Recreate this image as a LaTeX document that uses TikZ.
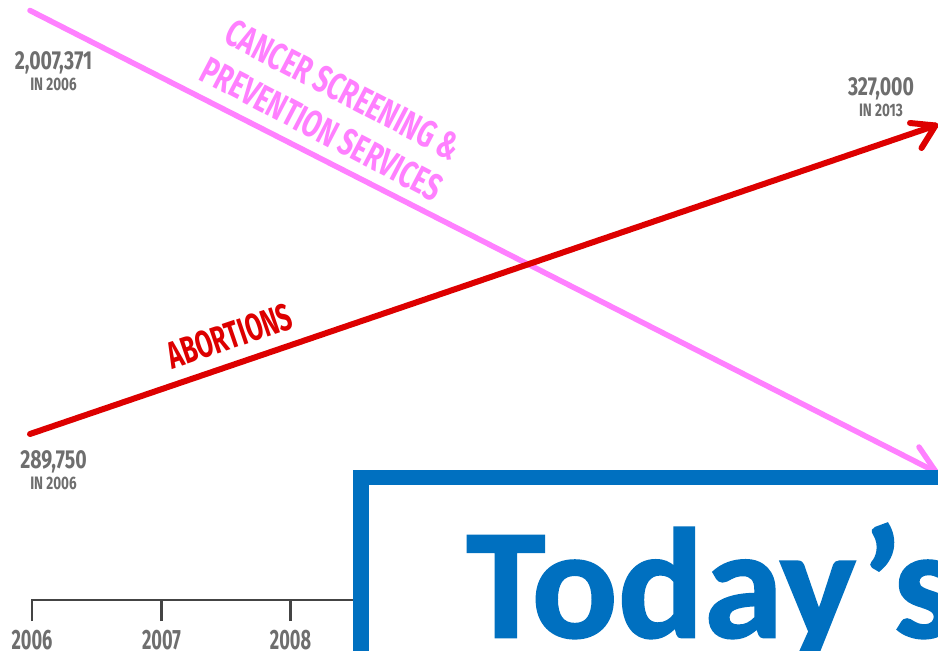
\documentclass[tikz,border=0pt]{standalone}
\usepackage{fontspec}
\setmainfont{Open Sans}
\newfontfamily\condbold[FakeStretch=0.65]{Fira Sans Bold}
\newfontfamily\widebold[FakeStretch=0.69]{Fira Sans Bold}
\newfontfamily\numbold[FakeStretch=0.75]{Fira Sans Bold}
\newfontfamily\titlefont[FakeStretch=1.02,FakeBold=1.2,BoldFeatures={FakeBold=1.2}]{Carlito}
\definecolor{pinkline}{HTML}{FF80FF}
\definecolor{redline}{HTML}{DD0000}
\definecolor{greytext}{HTML}{6E6E6E}
\definecolor{axisgrey}{HTML}{444444}
\definecolor{boxblue}{HTML}{0070C0}
\tikzset{
  pinkstroke/.style={draw=pinkline,line width=5.5pt,line cap=round,line join=round},
  redstroke/.style={draw=redline,line width=6pt,line cap=round,line join=round},
  axisstroke/.style={draw=axisgrey,line width=2.4pt},
  bignum/.style={text=greytext,font=\numbold\fontsize{26}{26}\selectfont,inner sep=0pt},
  smallnum/.style={text=greytext,font=\numbold\fontsize{18}{18}\selectfont,inner sep=0pt},
  yearlabel/.style={text=greytext,font=\condbold\fontsize{28}{28}\selectfont,inner sep=0pt},
  pinklabel/.style={text=pinkline,font=\widebold\fontsize{38}{38}\selectfont,inner sep=0pt,rotate=-27.5},
  redlabel/.style={text=redline,font=\condbold\fontsize{38}{38}\selectfont,inner sep=0pt,rotate=18.8}
}
\begin{document}
\begin{tikzpicture}[x=1pt,y=-1pt]
\useasboundingbox (0,0) rectangle (938,651);
\clip (0,0) rectangle (938,651);
\fill[white] (0,0) rectangle (938,651);
% axis
\coordinate (axL) at (32,600);
\coordinate (axR) at (360,600);
\coordinate (t6) at (32,621);
\coordinate (t7) at (161.5,621);
\coordinate (t8) at (290.5,621);
\draw[axisstroke] (t6) -- (axL) -- (axR);
\draw[axisstroke] (t7) -- (t7 |- axL);
\draw[axisstroke] (t8) -- (t8 |- axL);
\node[yearlabel] (y6) at (32,640) {2006};
\node[yearlabel] (y7) at (161.5,640) {2007};
\node[yearlabel] (y8) at (290.5,640) {2008};
% pink line
\coordinate (pS) at (30,10.5);
\coordinate (pE) at (936,472);
\coordinate (pB) at (919,447);
\draw[pinkstroke] (pS) -- (pE);
\draw[pinkstroke] (pB) -- (pE);
% red line
\coordinate (rS) at (30,434);
\coordinate (rE) at (935.5,125.5);
\coordinate (rA) at (910,123);
\coordinate (rB) at (921.5,148);
\draw[redstroke] (rS) -- (rE);
\draw[redstroke] (rA) -- (rE) -- (rB);
% labels
\node[pinklabel] (c1) at (343,90) {CANCER SCREENING \&};
\node[pinklabel] (c2) at (322,129) {PREVENTION SERVICES};
\node[redlabel] (ab) at (229.5,336) {ABORTIONS};
\node[bignum] (n1) at (53.5,63) {2,007,371};
\node[smallnum] (s1) at (53.5,84) {IN 2006};
\node[bignum] (n2) at (53.5,462) {289,750};
\node[smallnum] (s2) at (53.5,483) {IN 2006};
\node[bignum] (n3) at (881,89) {327,000};
\node[smallnum] (s3) at (881,110) {IN 2013};
% box
\fill[white] (361,477) rectangle (960,680);
\draw[boxblue,line width=15.5pt] (361,477.5) rectangle (1000,800);
\node[anchor=base west,inner sep=0pt,text=boxblue,font=\titlefont\bfseries\fontsize{157}{157}\selectfont] (title) at (466,637.5) {Today’s};
\end{tikzpicture}
\end{document}
